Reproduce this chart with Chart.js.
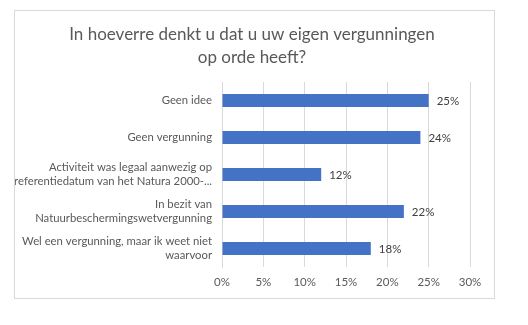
<!DOCTYPE html>
<html>
<head>
<meta charset="utf-8">
<script src="https://cdn.jsdelivr.net/npm/chart.js@4/dist/chart.umd.min.js"></script>
<style>
  html, body { margin: 0; padding: 0; background: #ffffff; }
  #frame {
    position: absolute; left: 14px; top: 10px;
    width: 479px; height: 287px;
    border: 1px solid #d9d9d9; background: #ffffff;
  }
  #frame canvas { display: block; }
</style>
</head>
<body>
<div id="frame"><canvas id="c" width="479" height="287"></canvas></div>
<script>
// Survey answers (share of respondents)
const categories = [
  ['Geen idee'],
  ['Geen vergunning'],
  ['Activiteit was legaal aanwezig op', 'referentiedatum van het Natura 2000-...'],
  ['In bezit van', 'Natuurbeschermingswetvergunning'],
  ['Wel een vergunning, maar ik weet niet', 'waarvoor']
];
const shares = [25, 24, 12, 22, 18];
const axisTicks = [0, 5, 10, 15, 20, 25, 30];
const titleLines = ['In hoeverre denkt u dat u uw eigen vergunningen', 'op orde heeft?'];

const FONT = 'Lato, "Open Sans", sans-serif';

// Two-line heading, centred over the whole frame
const heading = {
  id: 'heading',
  afterDraw(chart) {
    const ctx = chart.ctx;
    ctx.save();
    ctx.font = '17px ' + FONT;
    ctx.fillStyle = '#595959';
    ctx.textAlign = 'center';
    ctx.textBaseline = 'alphabetic';
    const cx = 237;
    titleLines.forEach((line, i) => ctx.fillText(line, cx, 28.5 + i * 23.5));
    ctx.restore();
  }
};

// Writes the percentage just past the end of each bar
const valueLabels = {
  id: 'valueLabels',
  afterDatasetsDraw(chart) {
    const ctx = chart.ctx;
    const meta = chart.getDatasetMeta(0);
    ctx.save();
    ctx.font = '11.5px ' + FONT;
    ctx.fillStyle = '#404040';
    ctx.textAlign = 'left';
    ctx.textBaseline = 'middle';
    meta.data.forEach((bar, i) => {
      ctx.fillText(shares[i] + '%', bar.x + 8, bar.y + 1);
    });
    ctx.restore();
  }
};

new Chart(document.getElementById('c'), {
  type: 'bar',
  data: {
    labels: categories,
    datasets: [{
      data: shares,
      backgroundColor: '#4472c4',
      borderWidth: 0,
      categoryPercentage: 1,
      barPercentage: 0.35
    }]
  },
  options: {
    indexAxis: 'y',
    responsive: false,
    animation: false,
    layout: { padding: { left: 0, right: 24, top: 71, bottom: 0 } },
    plugins: {
      legend: { display: false },
      tooltip: { enabled: false },
      title: { display: false }
    },
    scales: {
      x: {
        min: 0, max: 30,
        afterBuildTicks(scale) { scale.ticks = axisTicks.map(v => ({ value: v })); },
        afterFit(scale) { scale.height = 31; },
        ticks: {
          callback: v => v + '%',
          color: '#595959',
          font: { family: FONT, size: 11.5 },
          padding: 8
        },
        grid: { color: '#d9d9d9', drawTicks: false },
        border: { display: false }
      },
      y: {
        afterFit(scale) { scale.width = 207; },
        ticks: {
          color: '#595959',
          font: { family: FONT, size: 11.3, lineHeight: 1.18 },
          padding: 10
        },
        grid: { display: false, drawTicks: false },
        border: { display: true, color: '#d9d9d9' }
      }
    }
  },
  plugins: [heading, valueLabels]
});
</script>
</body>
</html>
